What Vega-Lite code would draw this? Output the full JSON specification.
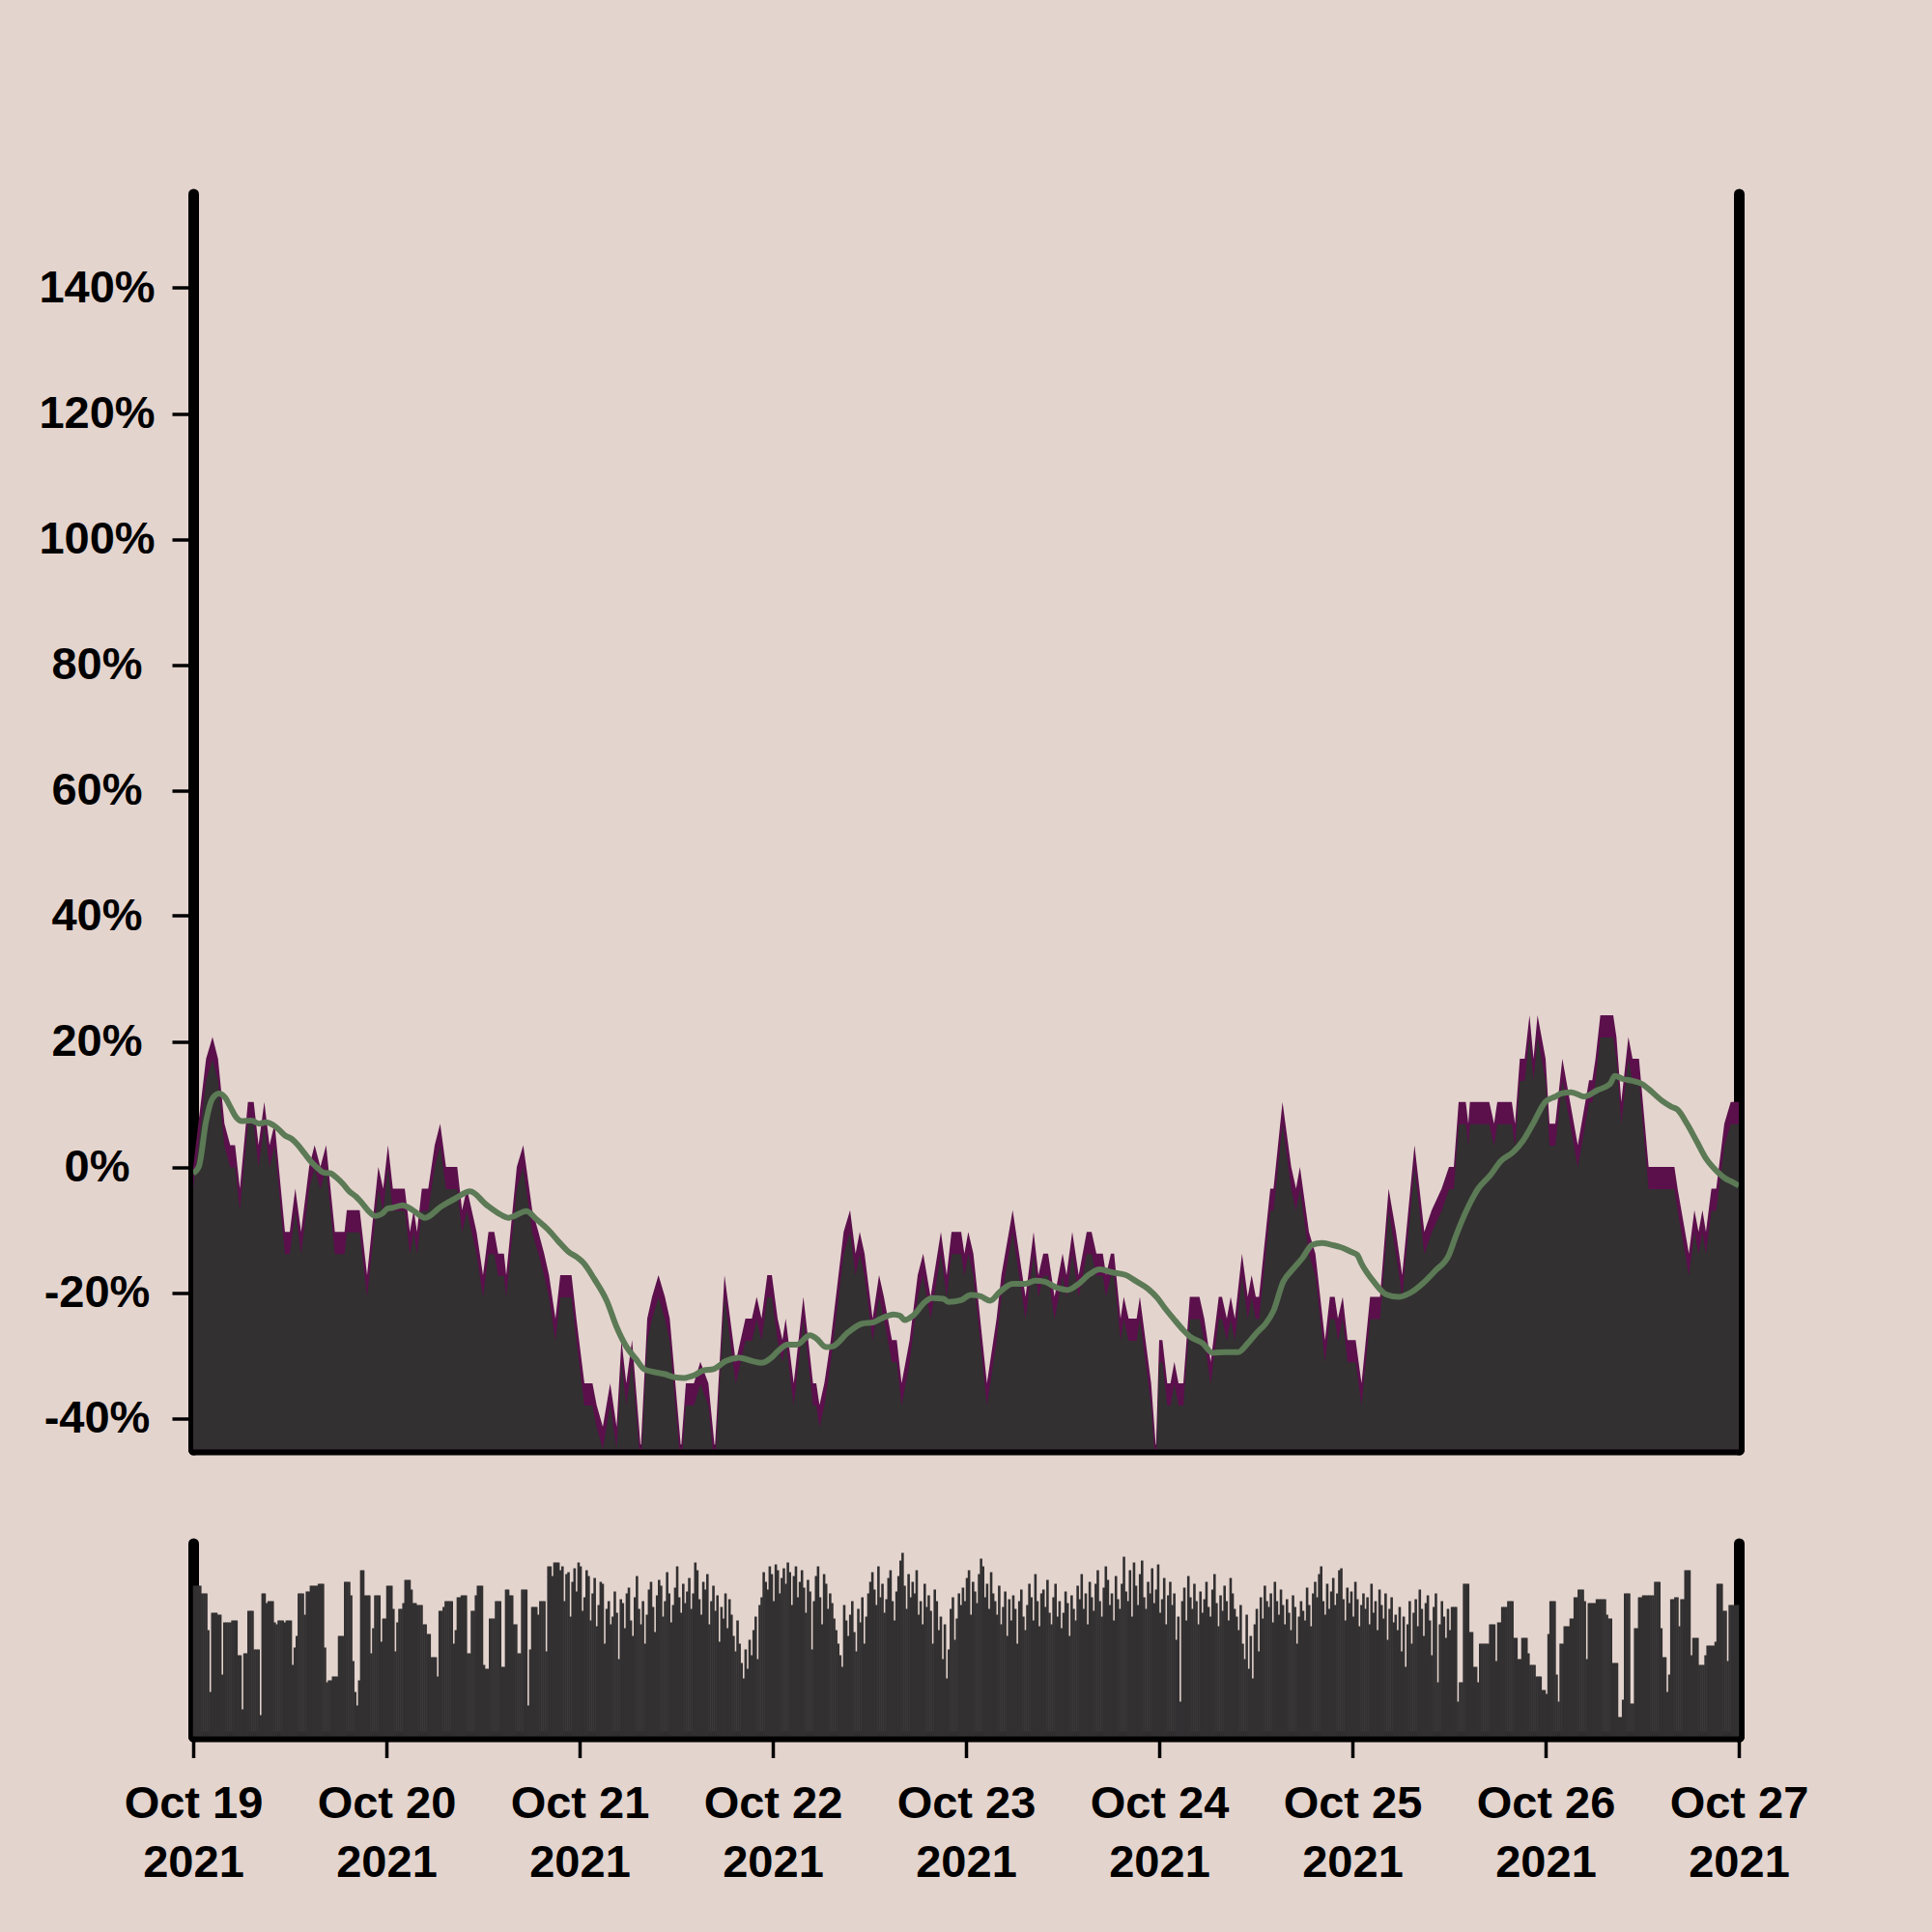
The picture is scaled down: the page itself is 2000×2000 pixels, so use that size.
{
"$schema": "https://vega.github.io/schema/vega-lite/v6.json",
"background": "#e4d4ce",
"padding": {"left": 39, "top": 200.5, "right": 135, "bottom": 60},
"config": {
  "view": {"stroke": null},
  "font": "Liberation Sans",
  "axis": {"labelFont": "Liberation Sans", "labelFontWeight": "bold", "labelFontSize": 47, "labelColor": "#000000", "domainColor": "#000000", "domainWidth": 11, "domainCap": "round", "tickColor": "#000000", "tickWidth": 3.5, "tickSize": 22, "grid": false, "title": null, "zindex": 1, "labelFlush": false}
},
"datasets": {
"area": [
{"t":"2021-10-19T00:00","v":0},{"t":"2021-10-19T01:36","v":17.24},{"t":"2021-10-19T02:24","v":20.69},{"t":"2021-10-19T03:05","v":17.24},{"t":"2021-10-19T03:53","v":6.9},{"t":"2021-10-19T04:36","v":3.45},{"t":"2021-10-19T05:12","v":3.45},{"t":"2021-10-19T05:48","v":-3.45},{"t":"2021-10-19T06:48","v":10.34},{"t":"2021-10-19T07:31","v":10.34},{"t":"2021-10-19T08:07","v":3.45},{"t":"2021-10-19T08:50","v":10.34},{"t":"2021-10-19T09:29","v":3.45},{"t":"2021-10-19T10:07","v":6.9},{"t":"2021-10-19T11:24","v":-10.34},{"t":"2021-10-19T12:00","v":-10.34},{"t":"2021-10-19T12:41","v":-3.45},{"t":"2021-10-19T13:24","v":-10.34},{"t":"2021-10-19T14:24","v":0},{"t":"2021-10-19T15:05","v":3.45},{"t":"2021-10-19T15:48","v":0},{"t":"2021-10-19T16:31","v":3.45},{"t":"2021-10-19T17:36","v":-10.34},{"t":"2021-10-19T18:48","v":-10.34},{"t":"2021-10-19T19:05","v":-6.9},{"t":"2021-10-19T20:41","v":-6.9},{"t":"2021-10-19T21:36","v":-17.24},{"t":"2021-10-19T23:00","v":0},{"t":"2021-10-19T23:36","v":-3.45},
{"t":"2021-10-20T00:12","v":3.45},{"t":"2021-10-20T00:48","v":-3.45},{"t":"2021-10-20T02:17","v":-3.45},{"t":"2021-10-20T02:55","v":-10.34},{"t":"2021-10-20T03:24","v":-6.9},{"t":"2021-10-20T03:48","v":-10.34},{"t":"2021-10-20T04:24","v":-3.45},{"t":"2021-10-20T05:12","v":-3.45},{"t":"2021-10-20T06:00","v":3.45},{"t":"2021-10-20T06:41","v":6.9},{"t":"2021-10-20T07:24","v":0},{"t":"2021-10-20T08:48","v":0},{"t":"2021-10-20T09:24","v":-6.9},{"t":"2021-10-20T10:00","v":-3.45},{"t":"2021-10-20T11:12","v":-10.34},{"t":"2021-10-20T12:00","v":-17.24},{"t":"2021-10-20T12:41","v":-10.34},{"t":"2021-10-20T13:24","v":-10.34},{"t":"2021-10-20T13:53","v":-13.79},{"t":"2021-10-20T14:36","v":-13.79},{"t":"2021-10-20T14:53","v":-17.24},{"t":"2021-10-20T16:12","v":0},{"t":"2021-10-20T17:00","v":3.45},{"t":"2021-10-20T18:07","v":-6.9},{"t":"2021-10-20T18:53","v":-10.34},{"t":"2021-10-20T19:36","v":-13.79},{"t":"2021-10-20T20:12","v":-17.24},{"t":"2021-10-20T21:00","v":-24.14},{"t":"2021-10-20T21:36","v":-17.24},{"t":"2021-10-20T23:00","v":-17.24},{"t":"2021-10-20T23:36","v":-24.14},
{"t":"2021-10-21T00:36","v":-34.48},{"t":"2021-10-21T01:36","v":-34.48},{"t":"2021-10-21T02:07","v":-37.93},{"t":"2021-10-21T02:53","v":-41.38},{"t":"2021-10-21T03:48","v":-34.48},{"t":"2021-10-21T04:36","v":-41.38},{"t":"2021-10-21T05:12","v":-27.59},{"t":"2021-10-21T05:48","v":-34.48},{"t":"2021-10-21T06:31","v":-27.59},{"t":"2021-10-21T07:36","v":-44.83},{"t":"2021-10-21T08:24","v":-24.14},{"t":"2021-10-21T09:00","v":-20.69},{"t":"2021-10-21T09:48","v":-17.24},{"t":"2021-10-21T10:36","v":-20.69},{"t":"2021-10-21T11:12","v":-24.14},{"t":"2021-10-21T12:36","v":-44.83},{"t":"2021-10-21T13:12","v":-34.48},{"t":"2021-10-21T14:12","v":-34.48},{"t":"2021-10-21T15:00","v":-31.03},{"t":"2021-10-21T16:00","v":-34.48},{"t":"2021-10-21T16:48","v":-44.83},{"t":"2021-10-21T18:00","v":-17.24},{"t":"2021-10-21T19:24","v":-31.03},{"t":"2021-10-21T20:36","v":-24.14},{"t":"2021-10-21T21:24","v":-24.14},{"t":"2021-10-21T22:00","v":-20.69},{"t":"2021-10-21T22:36","v":-24.14},{"t":"2021-10-21T23:19","v":-17.24},{"t":"2021-10-21T23:53","v":-17.24},
{"t":"2021-10-22T00:36","v":-24.14},{"t":"2021-10-22T01:12","v":-27.59},{"t":"2021-10-22T01:36","v":-24.14},{"t":"2021-10-22T02:36","v":-34.48},{"t":"2021-10-22T03:48","v":-20.69},{"t":"2021-10-22T05:00","v":-34.48},{"t":"2021-10-22T05:24","v":-34.48},{"t":"2021-10-22T05:48","v":-37.93},{"t":"2021-10-22T06:24","v":-34.48},{"t":"2021-10-22T06:48","v":-31.03},{"t":"2021-10-22T07:12","v":-27.59},{"t":"2021-10-22T08:48","v":-10.34},{"t":"2021-10-22T09:36","v":-6.9},{"t":"2021-10-22T10:17","v":-13.79},{"t":"2021-10-22T10:48","v":-10.34},{"t":"2021-10-22T11:24","v":-13.79},{"t":"2021-10-22T12:24","v":-24.14},{"t":"2021-10-22T13:12","v":-17.24},{"t":"2021-10-22T13:48","v":-20.69},{"t":"2021-10-22T14:48","v":-27.59},{"t":"2021-10-22T15:24","v":-27.59},{"t":"2021-10-22T16:00","v":-34.48},{"t":"2021-10-22T17:00","v":-27.59},{"t":"2021-10-22T18:00","v":-17.24},{"t":"2021-10-22T18:41","v":-13.79},{"t":"2021-10-22T19:36","v":-20.69},{"t":"2021-10-22T20:53","v":-10.34},{"t":"2021-10-22T21:36","v":-17.24},{"t":"2021-10-22T22:12","v":-10.34},{"t":"2021-10-22T23:24","v":-10.34},{"t":"2021-10-22T23:48","v":-13.79},
{"t":"2021-10-23T00:17","v":-10.34},{"t":"2021-10-23T00:55","v":-13.79},{"t":"2021-10-23T02:36","v":-34.48},{"t":"2021-10-23T03:48","v":-24.14},{"t":"2021-10-23T04:24","v":-17.24},{"t":"2021-10-23T05:48","v":-6.9},{"t":"2021-10-23T06:36","v":-13.79},{"t":"2021-10-23T07:24","v":-20.69},{"t":"2021-10-23T08:24","v":-10.34},{"t":"2021-10-23T09:00","v":-17.24},{"t":"2021-10-23T09:36","v":-13.79},{"t":"2021-10-23T10:12","v":-13.79},{"t":"2021-10-23T11:00","v":-20.69},{"t":"2021-10-23T12:00","v":-13.79},{"t":"2021-10-23T12:29","v":-17.24},{"t":"2021-10-23T13:12","v":-10.34},{"t":"2021-10-23T14:00","v":-17.24},{"t":"2021-10-23T15:00","v":-10.34},{"t":"2021-10-23T15:36","v":-10.34},{"t":"2021-10-23T16:12","v":-13.79},{"t":"2021-10-23T17:00","v":-13.79},{"t":"2021-10-23T17:24","v":-17.24},{"t":"2021-10-23T18:00","v":-13.79},{"t":"2021-10-23T18:24","v":-13.79},{"t":"2021-10-23T19:12","v":-24.14},{"t":"2021-10-23T19:36","v":-20.69},{"t":"2021-10-23T20:12","v":-24.14},{"t":"2021-10-23T21:12","v":-24.14},{"t":"2021-10-23T21:36","v":-20.69},{"t":"2021-10-23T23:00","v":-34.48},{"t":"2021-10-23T23:36","v":-44.83},
{"t":"2021-10-24T00:00","v":-27.59},{"t":"2021-10-24T00:24","v":-27.59},{"t":"2021-10-24T01:00","v":-34.48},{"t":"2021-10-24T01:24","v":-34.48},{"t":"2021-10-24T01:53","v":-31.03},{"t":"2021-10-24T02:24","v":-34.48},{"t":"2021-10-24T03:00","v":-34.48},{"t":"2021-10-24T03:48","v":-20.69},{"t":"2021-10-24T05:00","v":-20.69},{"t":"2021-10-24T05:36","v":-24.14},{"t":"2021-10-24T06:24","v":-31.03},{"t":"2021-10-24T07:24","v":-20.69},{"t":"2021-10-24T07:48","v":-20.69},{"t":"2021-10-24T08:24","v":-24.14},{"t":"2021-10-24T08:53","v":-20.69},{"t":"2021-10-24T09:24","v":-24.14},{"t":"2021-10-24T10:17","v":-13.79},{"t":"2021-10-24T11:00","v":-20.69},{"t":"2021-10-24T11:29","v":-17.24},{"t":"2021-10-24T12:00","v":-20.69},{"t":"2021-10-24T12:24","v":-20.69},{"t":"2021-10-24T13:48","v":-3.45},{"t":"2021-10-24T14:12","v":-3.45},{"t":"2021-10-24T15:19","v":10.34},{"t":"2021-10-24T16:24","v":0},{"t":"2021-10-24T17:00","v":-3.45},{"t":"2021-10-24T17:29","v":0},{"t":"2021-10-24T18:36","v":-10.34},{"t":"2021-10-24T19:24","v":-13.79},{"t":"2021-10-24T20:36","v":-27.59},{"t":"2021-10-24T21:12","v":-20.69},{"t":"2021-10-24T21:48","v":-20.69},{"t":"2021-10-24T22:12","v":-24.14},{"t":"2021-10-24T22:48","v":-20.69},{"t":"2021-10-24T23:24","v":-27.59},
{"t":"2021-10-25T00:24","v":-27.59},{"t":"2021-10-25T01:08","v":-34.48},{"t":"2021-10-25T01:40","v":-27.59},{"t":"2021-10-25T02:12","v":-20.69},{"t":"2021-10-25T03:26","v":-20.69},{"t":"2021-10-25T04:30","v":-3.45},{"t":"2021-10-25T05:25","v":-10.34},{"t":"2021-10-25T06:11","v":-17.24},{"t":"2021-10-25T07:43","v":3.45},{"t":"2021-10-25T08:20","v":-3.45},{"t":"2021-10-25T08:56","v":-10.34},{"t":"2021-10-25T09:51","v":-6.9},{"t":"2021-10-25T11:05","v":-3.45},{"t":"2021-10-25T12:00","v":0},{"t":"2021-10-25T12:36","v":0},{"t":"2021-10-25T13:12","v":10.34},{"t":"2021-10-25T14:05","v":10.34},{"t":"2021-10-25T14:24","v":6.9},{"t":"2021-10-25T14:36","v":10.34},{"t":"2021-10-25T17:00","v":10.34},{"t":"2021-10-25T17:36","v":6.9},{"t":"2021-10-25T18:00","v":10.34},{"t":"2021-10-25T19:48","v":10.34},{"t":"2021-10-25T20:12","v":6.9},{"t":"2021-10-25T20:48","v":17.24},{"t":"2021-10-25T21:24","v":17.24},{"t":"2021-10-25T22:00","v":24.14},{"t":"2021-10-25T22:30","v":17.24},{"t":"2021-10-25T23:00","v":24.14},
{"t":"2021-10-26T00:00","v":17.24},{"t":"2021-10-26T00:29","v":6.9},{"t":"2021-10-26T01:12","v":6.9},{"t":"2021-10-26T02:05","v":17.24},{"t":"2021-10-26T04:00","v":3.45},{"t":"2021-10-26T05:24","v":13.79},{"t":"2021-10-26T05:48","v":13.79},{"t":"2021-10-26T06:12","v":17.24},{"t":"2021-10-26T06:48","v":24.14},{"t":"2021-10-26T08:24","v":24.14},{"t":"2021-10-26T08:48","v":20.69},{"t":"2021-10-26T09:24","v":10.34},{"t":"2021-10-26T10:17","v":20.69},{"t":"2021-10-26T10:48","v":17.24},{"t":"2021-10-26T11:36","v":17.24},{"t":"2021-10-26T12:48","v":0},{"t":"2021-10-26T16:00","v":0},{"t":"2021-10-26T16:24","v":-3.45},{"t":"2021-10-26T17:48","v":-13.79},{"t":"2021-10-26T18:29","v":-6.9},{"t":"2021-10-26T19:00","v":-10.34},{"t":"2021-10-26T19:29","v":-6.9},{"t":"2021-10-26T19:55","v":-10.34},{"t":"2021-10-26T20:36","v":-3.45},{"t":"2021-10-26T21:12","v":-3.45},{"t":"2021-10-26T22:12","v":6.9},{"t":"2021-10-26T23:00","v":10.34},{"t":"2021-10-27T00:00","v":10.34}
],
"ma": [
{"t":"2021-10-19T00:00","v":-1.0},{"t":"2021-10-19T00:43","v":0.1},{"t":"2021-10-19T01:36","v":7.3},{"t":"2021-10-19T02:24","v":10.9},{"t":"2021-10-19T03:12","v":11.7},{"t":"2021-10-19T04:00","v":11.0},{"t":"2021-10-19T04:36","v":9.6},{"t":"2021-10-19T05:24","v":7.8},{"t":"2021-10-19T06:00","v":7.3},{"t":"2021-10-19T07:12","v":7.4},{"t":"2021-10-19T08:12","v":6.9},{"t":"2021-10-19T09:00","v":7.1},{"t":"2021-10-19T09:53","v":6.7},{"t":"2021-10-19T10:36","v":6.0},{"t":"2021-10-19T11:24","v":5.0},{"t":"2021-10-19T12:12","v":4.5},{"t":"2021-10-19T13:00","v":3.5},{"t":"2021-10-19T13:48","v":2.2},{"t":"2021-10-19T14:36","v":0.9},{"t":"2021-10-19T15:24","v":-0.1},{"t":"2021-10-19T16:12","v":-0.9},{"t":"2021-10-19T17:00","v":-1.0},{"t":"2021-10-19T17:48","v":-1.7},{"t":"2021-10-19T18:36","v":-2.7},{"t":"2021-10-19T19:24","v":-3.9},{"t":"2021-10-19T20:12","v":-4.7},{"t":"2021-10-19T21:00","v":-5.8},{"t":"2021-10-19T21:48","v":-7.05},{"t":"2021-10-19T22:36","v":-7.8},{"t":"2021-10-19T23:24","v":-7.5},
{"t":"2021-10-20T00:12","v":-6.6},{"t":"2021-10-20T00:48","v":-6.5},{"t":"2021-10-20T02:00","v":-6.1},{"t":"2021-10-20T03:24","v":-7.0},{"t":"2021-10-20T04:48","v":-8.1},{"t":"2021-10-20T06:48","v":-6.3},{"t":"2021-10-20T08:36","v":-5.0},{"t":"2021-10-20T10:24","v":-3.9},{"t":"2021-10-20T12:24","v":-6.0},{"t":"2021-10-20T14:12","v":-7.6},{"t":"2021-10-20T15:12","v":-8.1},{"t":"2021-10-20T17:24","v":-7.05},{"t":"2021-10-20T18:36","v":-8.3},{"t":"2021-10-20T20:06","v":-10.0},{"t":"2021-10-20T21:24","v":-11.9},{"t":"2021-10-20T22:36","v":-13.5},{"t":"2021-10-20T23:48","v":-14.5},
{"t":"2021-10-21T00:30","v":-15.3},{"t":"2021-10-21T01:48","v":-17.8},{"t":"2021-10-21T03:24","v":-21.4},{"t":"2021-10-21T04:36","v":-25.5},{"t":"2021-10-21T05:48","v":-28.6},{"t":"2021-10-21T07:00","v":-30.6},{"t":"2021-10-21T08:00","v":-32.2},{"t":"2021-10-21T09:00","v":-32.6},{"t":"2021-10-21T10:36","v":-33.0},{"t":"2021-10-21T11:48","v":-33.5},{"t":"2021-10-21T13:00","v":-33.6},{"t":"2021-10-21T14:12","v":-33.2},{"t":"2021-10-21T15:24","v":-32.4},{"t":"2021-10-21T16:36","v":-32.2},{"t":"2021-10-21T18:12","v":-30.9},{"t":"2021-10-21T19:48","v":-30.4},{"t":"2021-10-21T21:24","v":-30.9},{"t":"2021-10-21T22:36","v":-31.2},{"t":"2021-10-21T23:48","v":-30.4},
{"t":"2021-10-22T00:36","v":-29.4},{"t":"2021-10-22T01:48","v":-28.3},{"t":"2021-10-22T03:00","v":-28.3},{"t":"2021-10-22T04:36","v":-26.8},{"t":"2021-10-22T05:24","v":-27.3},{"t":"2021-10-22T06:36","v":-28.7},{"t":"2021-10-22T07:24","v":-28.6},{"t":"2021-10-22T09:24","v":-26.3},{"t":"2021-10-22T11:00","v":-25.0},{"t":"2021-10-22T12:36","v":-24.7},{"t":"2021-10-22T13:24","v":-24.2},{"t":"2021-10-22T15:00","v":-23.5},{"t":"2021-10-22T15:48","v":-23.7},{"t":"2021-10-22T16:24","v":-24.4},{"t":"2021-10-22T17:24","v":-23.7},{"t":"2021-10-22T19:00","v":-21.4},{"t":"2021-10-22T19:48","v":-20.9},{"t":"2021-10-22T21:12","v":-21.0},{"t":"2021-10-22T21:48","v":-21.5},{"t":"2021-10-22T23:24","v":-21.2},
{"t":"2021-10-23T00:36","v":-20.4},{"t":"2021-10-23T01:48","v":-20.6},{"t":"2021-10-23T03:00","v":-21.3},{"t":"2021-10-23T04:12","v":-19.9},{"t":"2021-10-23T05:48","v":-18.6},{"t":"2021-10-23T07:24","v":-18.6},{"t":"2021-10-23T08:36","v":-18.1},{"t":"2021-10-23T09:48","v":-18.3},{"t":"2021-10-23T11:24","v":-19.3},{"t":"2021-10-23T12:36","v":-19.6},{"t":"2021-10-23T13:48","v":-18.8},{"t":"2021-10-23T15:24","v":-17.05},{"t":"2021-10-23T16:36","v":-16.3},{"t":"2021-10-23T18:12","v":-16.8},{"t":"2021-10-23T19:48","v":-17.2},{"t":"2021-10-23T21:00","v":-18.1},{"t":"2021-10-23T22:36","v":-19.4},{"t":"2021-10-23T23:48","v":-20.9},
{"t":"2021-10-24T00:36","v":-22.3},{"t":"2021-10-24T01:48","v":-24.2},{"t":"2021-10-24T03:00","v":-26.0},{"t":"2021-10-24T03:48","v":-27.0},{"t":"2021-10-24T05:24","v":-28.1},{"t":"2021-10-24T06:36","v":-29.6},{"t":"2021-10-24T08:12","v":-29.5},{"t":"2021-10-24T09:48","v":-29.5},{"t":"2021-10-24T11:00","v":-28.1},{"t":"2021-10-24T12:12","v":-26.3},{"t":"2021-10-24T13:12","v":-25.0},{"t":"2021-10-24T14:12","v":-22.9},{"t":"2021-10-24T15:24","v":-18.3},{"t":"2021-10-24T16:36","v":-16.3},{"t":"2021-10-24T17:48","v":-14.5},{"t":"2021-10-24T19:00","v":-12.4},{"t":"2021-10-24T20:12","v":-12.1},{"t":"2021-10-24T21:24","v":-12.4},{"t":"2021-10-24T22:36","v":-12.8},{"t":"2021-10-24T23:48","v":-13.5},
{"t":"2021-10-25T00:36","v":-14.0},{"t":"2021-10-25T01:08","v":-15.4},{"t":"2021-10-25T02:40","v":-18.3},{"t":"2021-10-25T04:11","v":-20.3},{"t":"2021-10-25T05:43","v":-20.7},{"t":"2021-10-25T07:16","v":-20.0},{"t":"2021-10-25T08:47","v":-18.5},{"t":"2021-10-25T10:19","v":-16.5},{"t":"2021-10-25T12:00","v":-14.0},{"t":"2021-10-25T12:48","v":-11.2},{"t":"2021-10-25T13:36","v":-8.6},{"t":"2021-10-25T14:24","v":-6.3},{"t":"2021-10-25T15:36","v":-3.5},{"t":"2021-10-25T17:12","v":-1.2},{"t":"2021-10-25T18:24","v":0.9},{"t":"2021-10-25T20:00","v":2.4},{"t":"2021-10-25T21:12","v":4.2},{"t":"2021-10-25T22:24","v":6.8},
{"t":"2021-10-26T00:00","v":10.4},{"t":"2021-10-26T01:12","v":11.2},{"t":"2021-10-26T02:00","v":11.7},{"t":"2021-10-26T03:12","v":11.9},{"t":"2021-10-26T04:48","v":11.2},{"t":"2021-10-26T06:24","v":12.2},{"t":"2021-10-26T08:00","v":13.2},{"t":"2021-10-26T08:36","v":14.5},{"t":"2021-10-26T09:36","v":14.0},{"t":"2021-10-26T10:48","v":13.7},{"t":"2021-10-26T12:00","v":13.2},{"t":"2021-10-26T12:48","v":12.4},{"t":"2021-10-26T14:24","v":10.6},{"t":"2021-10-26T15:36","v":9.6},{"t":"2021-10-26T16:24","v":9.1},{"t":"2021-10-26T17:36","v":6.8},{"t":"2021-10-26T18:48","v":4.0},{"t":"2021-10-26T20:00","v":1.2},{"t":"2021-10-26T21:12","v":-0.6},{"t":"2021-10-26T22:24","v":-1.9},{"t":"2021-10-26T23:12","v":-2.4},{"t":"2021-10-27T00:00","v":-3.0}
],
"vol": [
{"t":"2021-10-19T00:00","b":78},{"t":"2021-10-19T00:15","b":78},{"t":"2021-10-19T00:30","b":78},{"t":"2021-10-19T00:45","b":78},{"t":"2021-10-19T01:00","b":74},{"t":"2021-10-19T01:15","b":74},{"t":"2021-10-19T01:30","b":74},{"t":"2021-10-19T01:45","b":55},{"t":"2021-10-19T02:00","b":23},{"t":"2021-10-19T02:15","b":64},{"t":"2021-10-19T02:30","b":64},{"t":"2021-10-19T02:45","b":64},{"t":"2021-10-19T03:00","b":63},{"t":"2021-10-19T03:15","b":63},{"t":"2021-10-19T03:30","b":32},{"t":"2021-10-19T03:45","b":59},{"t":"2021-10-19T04:00","b":59},{"t":"2021-10-19T04:15","b":59},{"t":"2021-10-19T04:30","b":59},{"t":"2021-10-19T04:45","b":60},{"t":"2021-10-19T05:00","b":60},{"t":"2021-10-19T05:15","b":60},{"t":"2021-10-19T05:30","b":42},{"t":"2021-10-19T05:45","b":42},{"t":"2021-10-19T06:00","b":14},{"t":"2021-10-19T06:15","b":43},{"t":"2021-10-19T06:30","b":43},{"t":"2021-10-19T06:45","b":65},{"t":"2021-10-19T07:00","b":65},{"t":"2021-10-19T07:15","b":65},{"t":"2021-10-19T07:30","b":45},{"t":"2021-10-19T07:45","b":45},{"t":"2021-10-19T08:00","b":45},{"t":"2021-10-19T08:15","b":11},{"t":"2021-10-19T08:30","b":74},{"t":"2021-10-19T08:45","b":74},{"t":"2021-10-19T09:00","b":69},{"t":"2021-10-19T09:15","b":70},{"t":"2021-10-19T09:30","b":70},{"t":"2021-10-19T09:45","b":70},{"t":"2021-10-19T10:00","b":59},{"t":"2021-10-19T10:15","b":58},{"t":"2021-10-19T10:30","b":60},{"t":"2021-10-19T10:45","b":60},{"t":"2021-10-19T11:00","b":60},{"t":"2021-10-19T11:15","b":59},{"t":"2021-10-19T11:30","b":60},{"t":"2021-10-19T11:45","b":60},{"t":"2021-10-19T12:00","b":60},{"t":"2021-10-19T12:15","b":37},{"t":"2021-10-19T12:30","b":46},{"t":"2021-10-19T12:45","b":52},{"t":"2021-10-19T13:00","b":74},{"t":"2021-10-19T13:15","b":74},{"t":"2021-10-19T13:30","b":74},{"t":"2021-10-19T13:45","b":63},{"t":"2021-10-19T14:00","b":75},{"t":"2021-10-19T14:15","b":75},{"t":"2021-10-19T14:30","b":78},{"t":"2021-10-19T14:45","b":78},{"t":"2021-10-19T15:00","b":78},{"t":"2021-10-19T15:15","b":78},{"t":"2021-10-19T15:30","b":79},{"t":"2021-10-19T15:45","b":79},{"t":"2021-10-19T16:00","b":79},{"t":"2021-10-19T16:15","b":46},{"t":"2021-10-19T16:30","b":28},{"t":"2021-10-19T16:45","b":29},{"t":"2021-10-19T17:00","b":29},{"t":"2021-10-19T17:15","b":31},{"t":"2021-10-19T17:30","b":31},{"t":"2021-10-19T17:45","b":31},{"t":"2021-10-19T18:00","b":52},{"t":"2021-10-19T18:15","b":52},{"t":"2021-10-19T18:30","b":52},{"t":"2021-10-19T18:45","b":80},{"t":"2021-10-19T19:00","b":80},{"t":"2021-10-19T19:15","b":80},{"t":"2021-10-19T19:30","b":73},{"t":"2021-10-19T19:45","b":39},{"t":"2021-10-19T20:00","b":23},{"t":"2021-10-19T20:15","b":16},{"t":"2021-10-19T20:30","b":29},{"t":"2021-10-19T20:45","b":86},{"t":"2021-10-19T21:00","b":86},{"t":"2021-10-19T21:15","b":73},{"t":"2021-10-19T21:30","b":73},{"t":"2021-10-19T21:45","b":73},{"t":"2021-10-19T22:00","b":43},{"t":"2021-10-19T22:15","b":56},{"t":"2021-10-19T22:30","b":73},{"t":"2021-10-19T22:45","b":73},{"t":"2021-10-19T23:00","b":73},{"t":"2021-10-19T23:15","b":49},{"t":"2021-10-19T23:30","b":61},{"t":"2021-10-19T23:45","b":61},
{"t":"2021-10-20T00:00","b":78},{"t":"2021-10-20T00:15","b":78},{"t":"2021-10-20T00:30","b":78},{"t":"2021-10-20T00:45","b":66},{"t":"2021-10-20T01:00","b":44},{"t":"2021-10-20T01:15","b":59},{"t":"2021-10-20T01:30","b":66},{"t":"2021-10-20T01:45","b":66},{"t":"2021-10-20T02:00","b":69},{"t":"2021-10-20T02:15","b":81},{"t":"2021-10-20T02:30","b":81},{"t":"2021-10-20T02:45","b":81},{"t":"2021-10-20T03:00","b":76},{"t":"2021-10-20T03:15","b":69},{"t":"2021-10-20T03:30","b":69},{"t":"2021-10-20T03:45","b":68},{"t":"2021-10-20T04:00","b":68},{"t":"2021-10-20T04:15","b":68},{"t":"2021-10-20T04:30","b":58},{"t":"2021-10-20T04:45","b":58},{"t":"2021-10-20T05:00","b":53},{"t":"2021-10-20T05:15","b":53},{"t":"2021-10-20T05:30","b":41},{"t":"2021-10-20T05:45","b":41},{"t":"2021-10-20T06:00","b":41},{"t":"2021-10-20T06:15","b":31},{"t":"2021-10-20T06:30","b":65},{"t":"2021-10-20T06:45","b":65},{"t":"2021-10-20T07:00","b":67},{"t":"2021-10-20T07:15","b":70},{"t":"2021-10-20T07:30","b":70},{"t":"2021-10-20T07:45","b":70},{"t":"2021-10-20T08:00","b":70},{"t":"2021-10-20T08:15","b":48},{"t":"2021-10-20T08:30","b":55},{"t":"2021-10-20T08:45","b":72},{"t":"2021-10-20T09:00","b":72},{"t":"2021-10-20T09:15","b":73},{"t":"2021-10-20T09:30","b":73},{"t":"2021-10-20T09:45","b":73},{"t":"2021-10-20T10:00","b":43},{"t":"2021-10-20T10:15","b":43},{"t":"2021-10-20T10:30","b":65},{"t":"2021-10-20T10:45","b":65},{"t":"2021-10-20T11:00","b":73},{"t":"2021-10-20T11:15","b":78},{"t":"2021-10-20T11:30","b":78},{"t":"2021-10-20T11:45","b":78},{"t":"2021-10-20T12:00","b":37},{"t":"2021-10-20T12:15","b":35},{"t":"2021-10-20T12:30","b":35},{"t":"2021-10-20T12:45","b":61},{"t":"2021-10-20T13:00","b":61},{"t":"2021-10-20T13:15","b":61},{"t":"2021-10-20T13:30","b":70},{"t":"2021-10-20T13:45","b":70},{"t":"2021-10-20T14:00","b":70},{"t":"2021-10-20T14:15","b":36},{"t":"2021-10-20T14:30","b":36},{"t":"2021-10-20T14:45","b":76},{"t":"2021-10-20T15:00","b":76},{"t":"2021-10-20T15:15","b":73},{"t":"2021-10-20T15:30","b":73},{"t":"2021-10-20T15:45","b":58},{"t":"2021-10-20T16:00","b":58},{"t":"2021-10-20T16:15","b":43},{"t":"2021-10-20T16:30","b":43},{"t":"2021-10-20T16:45","b":76},{"t":"2021-10-20T17:00","b":76},{"t":"2021-10-20T17:15","b":76},{"t":"2021-10-20T17:30","b":16},{"t":"2021-10-20T17:45","b":45},{"t":"2021-10-20T18:00","b":67},{"t":"2021-10-20T18:15","b":67},{"t":"2021-10-20T18:30","b":67},{"t":"2021-10-20T18:45","b":63},{"t":"2021-10-20T19:00","b":70},{"t":"2021-10-20T19:15","b":70},{"t":"2021-10-20T19:30","b":70},{"t":"2021-10-20T19:45","b":44},{"t":"2021-10-20T20:00","b":88},{"t":"2021-10-20T20:15","b":88},{"t":"2021-10-20T20:30","b":83},{"t":"2021-10-20T20:45","b":90},{"t":"2021-10-20T21:00","b":90},{"t":"2021-10-20T21:15","b":90},{"t":"2021-10-20T21:30","b":86},{"t":"2021-10-20T21:45","b":88},{"t":"2021-10-20T22:00","b":70},{"t":"2021-10-20T22:15","b":84},{"t":"2021-10-20T22:30","b":85},{"t":"2021-10-20T22:45","b":62},{"t":"2021-10-20T23:00","b":80},{"t":"2021-10-20T23:15","b":87},{"t":"2021-10-20T23:30","b":75},{"t":"2021-10-20T23:45","b":90},
{"t":"2021-10-21T00:00","b":88},{"t":"2021-10-21T00:15","b":65},{"t":"2021-10-21T00:30","b":72},{"t":"2021-10-21T00:45","b":86},{"t":"2021-10-21T01:00","b":83},{"t":"2021-10-21T01:15","b":60},{"t":"2021-10-21T01:30","b":74},{"t":"2021-10-21T01:45","b":82},{"t":"2021-10-21T02:00","b":57},{"t":"2021-10-21T02:15","b":68},{"t":"2021-10-21T02:30","b":80},{"t":"2021-10-21T02:45","b":79},{"t":"2021-10-21T03:00","b":48},{"t":"2021-10-21T03:15","b":66},{"t":"2021-10-21T03:30","b":70},{"t":"2021-10-21T03:45","b":58},{"t":"2021-10-21T04:00","b":62},{"t":"2021-10-21T04:15","b":75},{"t":"2021-10-21T04:30","b":64},{"t":"2021-10-21T04:45","b":40},{"t":"2021-10-21T05:00","b":71},{"t":"2021-10-21T05:15","b":69},{"t":"2021-10-21T05:30","b":56},{"t":"2021-10-21T05:45","b":74},{"t":"2021-10-21T06:00","b":77},{"t":"2021-10-21T06:15","b":60},{"t":"2021-10-21T06:30","b":52},{"t":"2021-10-21T06:45","b":72},{"t":"2021-10-21T07:00","b":83},{"t":"2021-10-21T07:15","b":66},{"t":"2021-10-21T07:30","b":58},{"t":"2021-10-21T07:45","b":70},{"t":"2021-10-21T08:00","b":48},{"t":"2021-10-21T08:15","b":63},{"t":"2021-10-21T08:30","b":76},{"t":"2021-10-21T08:45","b":80},{"t":"2021-10-21T09:00","b":67},{"t":"2021-10-21T09:15","b":54},{"t":"2021-10-21T09:30","b":73},{"t":"2021-10-21T09:45","b":81},{"t":"2021-10-21T10:00","b":78},{"t":"2021-10-21T10:15","b":62},{"t":"2021-10-21T10:30","b":70},{"t":"2021-10-21T10:45","b":85},{"t":"2021-10-21T11:00","b":74},{"t":"2021-10-21T11:15","b":59},{"t":"2021-10-21T11:30","b":68},{"t":"2021-10-21T11:45","b":77},{"t":"2021-10-21T12:00","b":88},{"t":"2021-10-21T12:15","b":72},{"t":"2021-10-21T12:30","b":64},{"t":"2021-10-21T12:45","b":79},{"t":"2021-10-21T13:00","b":69},{"t":"2021-10-21T13:15","b":75},{"t":"2021-10-21T13:30","b":82},{"t":"2021-10-21T13:45","b":66},{"t":"2021-10-21T14:00","b":74},{"t":"2021-10-21T14:15","b":90},{"t":"2021-10-21T14:30","b":86},{"t":"2021-10-21T14:45","b":71},{"t":"2021-10-21T15:00","b":63},{"t":"2021-10-21T15:15","b":80},{"t":"2021-10-21T15:30","b":76},{"t":"2021-10-21T15:45","b":84},{"t":"2021-10-21T16:00","b":58},{"t":"2021-10-21T16:15","b":70},{"t":"2021-10-21T16:30","b":78},{"t":"2021-10-21T16:45","b":65},{"t":"2021-10-21T17:00","b":73},{"t":"2021-10-21T17:15","b":49},{"t":"2021-10-21T17:30","b":67},{"t":"2021-10-21T17:45","b":61},{"t":"2021-10-21T18:00","b":74},{"t":"2021-10-21T18:15","b":56},{"t":"2021-10-21T18:30","b":71},{"t":"2021-10-21T18:45","b":63},{"t":"2021-10-21T19:00","b":52},{"t":"2021-10-21T19:15","b":44},{"t":"2021-10-21T19:30","b":60},{"t":"2021-10-21T19:45","b":48},{"t":"2021-10-21T20:00","b":38},{"t":"2021-10-21T20:15","b":30},{"t":"2021-10-21T20:30","b":45},{"t":"2021-10-21T20:45","b":35},{"t":"2021-10-21T21:00","b":50},{"t":"2021-10-21T21:15","b":42},{"t":"2021-10-21T21:30","b":55},{"t":"2021-10-21T21:45","b":62},{"t":"2021-10-21T22:00","b":40},{"t":"2021-10-21T22:15","b":68},{"t":"2021-10-21T22:30","b":72},{"t":"2021-10-21T22:45","b":85},{"t":"2021-10-21T23:00","b":80},{"t":"2021-10-21T23:15","b":76},{"t":"2021-10-21T23:30","b":88},{"t":"2021-10-21T23:45","b":84},
{"t":"2021-10-22T00:00","b":70},{"t":"2021-10-22T00:15","b":89},{"t":"2021-10-22T00:30","b":86},{"t":"2021-10-22T00:45","b":74},{"t":"2021-10-22T01:00","b":82},{"t":"2021-10-22T01:15","b":87},{"t":"2021-10-22T01:30","b":79},{"t":"2021-10-22T01:45","b":90},{"t":"2021-10-22T02:00","b":85},{"t":"2021-10-22T02:15","b":68},{"t":"2021-10-22T02:30","b":83},{"t":"2021-10-22T02:45","b":88},{"t":"2021-10-22T03:00","b":72},{"t":"2021-10-22T03:15","b":80},{"t":"2021-10-22T03:30","b":86},{"t":"2021-10-22T03:45","b":77},{"t":"2021-10-22T04:00","b":64},{"t":"2021-10-22T04:15","b":81},{"t":"2021-10-22T04:30","b":75},{"t":"2021-10-22T04:45","b":45},{"t":"2021-10-22T05:00","b":70},{"t":"2021-10-22T05:15","b":83},{"t":"2021-10-22T05:30","b":88},{"t":"2021-10-22T05:45","b":72},{"t":"2021-10-22T06:00","b":58},{"t":"2021-10-22T06:15","b":84},{"t":"2021-10-22T06:30","b":79},{"t":"2021-10-22T06:45","b":66},{"t":"2021-10-22T07:00","b":74},{"t":"2021-10-22T07:15","b":69},{"t":"2021-10-22T07:30","b":61},{"t":"2021-10-22T07:45","b":55},{"t":"2021-10-22T08:00","b":48},{"t":"2021-10-22T08:15","b":42},{"t":"2021-10-22T08:30","b":36},{"t":"2021-10-22T08:45","b":68},{"t":"2021-10-22T09:00","b":60},{"t":"2021-10-22T09:15","b":52},{"t":"2021-10-22T09:30","b":63},{"t":"2021-10-22T09:45","b":70},{"t":"2021-10-22T10:00","b":54},{"t":"2021-10-22T10:15","b":44},{"t":"2021-10-22T10:30","b":66},{"t":"2021-10-22T10:45","b":59},{"t":"2021-10-22T11:00","b":72},{"t":"2021-10-22T11:15","b":48},{"t":"2021-10-22T11:30","b":62},{"t":"2021-10-22T11:45","b":74},{"t":"2021-10-22T12:00","b":80},{"t":"2021-10-22T12:15","b":85},{"t":"2021-10-22T12:30","b":76},{"t":"2021-10-22T12:45","b":68},{"t":"2021-10-22T13:00","b":88},{"t":"2021-10-22T13:15","b":72},{"t":"2021-10-22T13:30","b":79},{"t":"2021-10-22T13:45","b":64},{"t":"2021-10-22T14:00","b":71},{"t":"2021-10-22T14:15","b":82},{"t":"2021-10-22T14:30","b":86},{"t":"2021-10-22T14:45","b":70},{"t":"2021-10-22T15:00","b":60},{"t":"2021-10-22T15:15","b":75},{"t":"2021-10-22T15:30","b":83},{"t":"2021-10-22T15:45","b":91},{"t":"2021-10-22T16:00","b":95},{"t":"2021-10-22T16:15","b":78},{"t":"2021-10-22T16:30","b":66},{"t":"2021-10-22T16:45","b":84},{"t":"2021-10-22T17:00","b":72},{"t":"2021-10-22T17:15","b":80},{"t":"2021-10-22T17:30","b":74},{"t":"2021-10-22T17:45","b":86},{"t":"2021-10-22T18:00","b":63},{"t":"2021-10-22T18:15","b":70},{"t":"2021-10-22T18:30","b":58},{"t":"2021-10-22T18:45","b":79},{"t":"2021-10-22T19:00","b":67},{"t":"2021-10-22T19:15","b":73},{"t":"2021-10-22T19:30","b":65},{"t":"2021-10-22T19:45","b":48},{"t":"2021-10-22T20:00","b":76},{"t":"2021-10-22T20:15","b":70},{"t":"2021-10-22T20:30","b":55},{"t":"2021-10-22T20:45","b":62},{"t":"2021-10-22T21:00","b":40},{"t":"2021-10-22T21:15","b":58},{"t":"2021-10-22T21:30","b":30},{"t":"2021-10-22T21:45","b":45},{"t":"2021-10-22T22:00","b":66},{"t":"2021-10-22T22:15","b":72},{"t":"2021-10-22T22:30","b":50},{"t":"2021-10-22T22:45","b":61},{"t":"2021-10-22T23:00","b":74},{"t":"2021-10-22T23:15","b":68},{"t":"2021-10-22T23:30","b":77},{"t":"2021-10-22T23:45","b":70},
{"t":"2021-10-23T00:00","b":82},{"t":"2021-10-23T00:15","b":86},{"t":"2021-10-23T00:30","b":63},{"t":"2021-10-23T00:45","b":80},{"t":"2021-10-23T01:00","b":75},{"t":"2021-10-23T01:15","b":69},{"t":"2021-10-23T01:30","b":84},{"t":"2021-10-23T01:45","b":92},{"t":"2021-10-23T02:00","b":88},{"t":"2021-10-23T02:15","b":72},{"t":"2021-10-23T02:30","b":79},{"t":"2021-10-23T02:45","b":66},{"t":"2021-10-23T03:00","b":85},{"t":"2021-10-23T03:15","b":74},{"t":"2021-10-23T03:30","b":70},{"t":"2021-10-23T03:45","b":63},{"t":"2021-10-23T04:00","b":78},{"t":"2021-10-23T04:15","b":58},{"t":"2021-10-23T04:30","b":67},{"t":"2021-10-23T04:45","b":75},{"t":"2021-10-23T05:00","b":52},{"t":"2021-10-23T05:15","b":71},{"t":"2021-10-23T05:30","b":60},{"t":"2021-10-23T05:45","b":73},{"t":"2021-10-23T06:00","b":66},{"t":"2021-10-23T06:15","b":48},{"t":"2021-10-23T06:30","b":70},{"t":"2021-10-23T06:45","b":76},{"t":"2021-10-23T07:00","b":62},{"t":"2021-10-23T07:15","b":55},{"t":"2021-10-23T07:30","b":68},{"t":"2021-10-23T07:45","b":79},{"t":"2021-10-23T08:00","b":72},{"t":"2021-10-23T08:15","b":60},{"t":"2021-10-23T08:30","b":84},{"t":"2021-10-23T08:45","b":70},{"t":"2021-10-23T09:00","b":57},{"t":"2021-10-23T09:15","b":74},{"t":"2021-10-23T09:30","b":76},{"t":"2021-10-23T09:45","b":67},{"t":"2021-10-23T10:00","b":81},{"t":"2021-10-23T10:15","b":64},{"t":"2021-10-23T10:30","b":58},{"t":"2021-10-23T10:45","b":72},{"t":"2021-10-23T11:00","b":79},{"t":"2021-10-23T11:15","b":62},{"t":"2021-10-23T11:30","b":70},{"t":"2021-10-23T11:45","b":56},{"t":"2021-10-23T12:00","b":64},{"t":"2021-10-23T12:15","b":75},{"t":"2021-10-23T12:30","b":69},{"t":"2021-10-23T12:45","b":52},{"t":"2021-10-23T13:00","b":73},{"t":"2021-10-23T13:15","b":66},{"t":"2021-10-23T13:30","b":60},{"t":"2021-10-23T13:45","b":78},{"t":"2021-10-23T14:00","b":71},{"t":"2021-10-23T14:15","b":84},{"t":"2021-10-23T14:30","b":66},{"t":"2021-10-23T14:45","b":74},{"t":"2021-10-23T15:00","b":58},{"t":"2021-10-23T15:15","b":80},{"t":"2021-10-23T15:30","b":72},{"t":"2021-10-23T15:45","b":65},{"t":"2021-10-23T16:00","b":79},{"t":"2021-10-23T16:15","b":86},{"t":"2021-10-23T16:30","b":70},{"t":"2021-10-23T16:45","b":62},{"t":"2021-10-23T17:00","b":77},{"t":"2021-10-23T17:15","b":88},{"t":"2021-10-23T17:30","b":81},{"t":"2021-10-23T17:45","b":68},{"t":"2021-10-23T18:00","b":74},{"t":"2021-10-23T18:15","b":60},{"t":"2021-10-23T18:30","b":83},{"t":"2021-10-23T18:45","b":71},{"t":"2021-10-23T19:00","b":66},{"t":"2021-10-23T19:15","b":79},{"t":"2021-10-23T19:30","b":93},{"t":"2021-10-23T19:45","b":75},{"t":"2021-10-23T20:00","b":70},{"t":"2021-10-23T20:15","b":86},{"t":"2021-10-23T20:30","b":62},{"t":"2021-10-23T20:45","b":90},{"t":"2021-10-23T21:00","b":78},{"t":"2021-10-23T21:15","b":68},{"t":"2021-10-23T21:30","b":84},{"t":"2021-10-23T21:45","b":91},{"t":"2021-10-23T22:00","b":72},{"t":"2021-10-23T22:15","b":66},{"t":"2021-10-23T22:30","b":80},{"t":"2021-10-23T22:45","b":74},{"t":"2021-10-23T23:00","b":87},{"t":"2021-10-23T23:15","b":69},{"t":"2021-10-23T23:30","b":76},{"t":"2021-10-23T23:45","b":89},
{"t":"2021-10-24T00:00","b":64},{"t":"2021-10-24T00:15","b":71},{"t":"2021-10-24T00:30","b":82},{"t":"2021-10-24T00:45","b":58},{"t":"2021-10-24T01:00","b":73},{"t":"2021-10-24T01:15","b":80},{"t":"2021-10-24T01:30","b":68},{"t":"2021-10-24T01:45","b":74},{"t":"2021-10-24T02:00","b":50},{"t":"2021-10-24T02:15","b":62},{"t":"2021-10-24T02:30","b":18},{"t":"2021-10-24T02:45","b":70},{"t":"2021-10-24T03:00","b":77},{"t":"2021-10-24T03:15","b":60},{"t":"2021-10-24T03:30","b":83},{"t":"2021-10-24T03:45","b":72},{"t":"2021-10-24T04:00","b":66},{"t":"2021-10-24T04:15","b":79},{"t":"2021-10-24T04:30","b":70},{"t":"2021-10-24T04:45","b":58},{"t":"2021-10-24T05:00","b":75},{"t":"2021-10-24T05:15","b":64},{"t":"2021-10-24T05:30","b":71},{"t":"2021-10-24T05:45","b":80},{"t":"2021-10-24T06:00","b":67},{"t":"2021-10-24T06:15","b":62},{"t":"2021-10-24T06:30","b":76},{"t":"2021-10-24T06:45","b":84},{"t":"2021-10-24T07:00","b":69},{"t":"2021-10-24T07:15","b":57},{"t":"2021-10-24T07:30","b":73},{"t":"2021-10-24T07:45","b":65},{"t":"2021-10-24T08:00","b":78},{"t":"2021-10-24T08:15","b":70},{"t":"2021-10-24T08:30","b":60},{"t":"2021-10-24T08:45","b":82},{"t":"2021-10-24T09:00","b":74},{"t":"2021-10-24T09:15","b":66},{"t":"2021-10-24T09:30","b":62},{"t":"2021-10-24T09:45","b":55},{"t":"2021-10-24T10:00","b":68},{"t":"2021-10-24T10:15","b":48},{"t":"2021-10-24T10:30","b":40},{"t":"2021-10-24T10:45","b":63},{"t":"2021-10-24T11:00","b":35},{"t":"2021-10-24T11:15","b":52},{"t":"2021-10-24T11:30","b":30},{"t":"2021-10-24T11:45","b":58},{"t":"2021-10-24T12:00","b":66},{"t":"2021-10-24T12:15","b":44},{"t":"2021-10-24T12:30","b":72},{"t":"2021-10-24T12:45","b":61},{"t":"2021-10-24T13:00","b":78},{"t":"2021-10-24T13:15","b":70},{"t":"2021-10-24T13:30","b":67},{"t":"2021-10-24T13:45","b":74},{"t":"2021-10-24T14:00","b":59},{"t":"2021-10-24T14:15","b":80},{"t":"2021-10-24T14:30","b":70},{"t":"2021-10-24T14:45","b":63},{"t":"2021-10-24T15:00","b":76},{"t":"2021-10-24T15:15","b":68},{"t":"2021-10-24T15:30","b":58},{"t":"2021-10-24T15:45","b":71},{"t":"2021-10-24T16:00","b":64},{"t":"2021-10-24T16:15","b":55},{"t":"2021-10-24T16:30","b":73},{"t":"2021-10-24T16:45","b":67},{"t":"2021-10-24T17:00","b":48},{"t":"2021-10-24T17:15","b":62},{"t":"2021-10-24T17:30","b":70},{"t":"2021-10-24T17:45","b":65},{"t":"2021-10-24T18:00","b":60},{"t":"2021-10-24T18:15","b":77},{"t":"2021-10-24T18:30","b":68},{"t":"2021-10-24T18:45","b":57},{"t":"2021-10-24T19:00","b":74},{"t":"2021-10-24T19:15","b":80},{"t":"2021-10-24T19:30","b":72},{"t":"2021-10-24T19:45","b":84},{"t":"2021-10-24T20:00","b":88},{"t":"2021-10-24T20:15","b":70},{"t":"2021-10-24T20:30","b":63},{"t":"2021-10-24T20:45","b":79},{"t":"2021-10-24T21:00","b":66},{"t":"2021-10-24T21:15","b":75},{"t":"2021-10-24T21:30","b":82},{"t":"2021-10-24T21:45","b":68},{"t":"2021-10-24T22:00","b":74},{"t":"2021-10-24T22:15","b":86},{"t":"2021-10-24T22:30","b":87},{"t":"2021-10-24T22:45","b":71},{"t":"2021-10-24T23:00","b":60},{"t":"2021-10-24T23:15","b":77},{"t":"2021-10-24T23:30","b":69},{"t":"2021-10-24T23:45","b":75},
{"t":"2021-10-25T00:00","b":62},{"t":"2021-10-25T00:15","b":80},{"t":"2021-10-25T00:30","b":71},{"t":"2021-10-25T00:45","b":57},{"t":"2021-10-25T01:00","b":68},{"t":"2021-10-25T01:15","b":74},{"t":"2021-10-25T01:30","b":66},{"t":"2021-10-25T01:45","b":72},{"t":"2021-10-25T02:00","b":58},{"t":"2021-10-25T02:15","b":79},{"t":"2021-10-25T02:30","b":64},{"t":"2021-10-25T02:45","b":70},{"t":"2021-10-25T03:00","b":55},{"t":"2021-10-25T03:15","b":76},{"t":"2021-10-25T03:30","b":68},{"t":"2021-10-25T03:45","b":61},{"t":"2021-10-25T04:00","b":74},{"t":"2021-10-25T04:15","b":50},{"t":"2021-10-25T04:30","b":66},{"t":"2021-10-25T04:45","b":72},{"t":"2021-10-25T05:00","b":59},{"t":"2021-10-25T05:15","b":63},{"t":"2021-10-25T05:30","b":55},{"t":"2021-10-25T05:45","b":67},{"t":"2021-10-25T06:00","b":44},{"t":"2021-10-25T06:15","b":62},{"t":"2021-10-25T06:30","b":36},{"t":"2021-10-25T06:45","b":58},{"t":"2021-10-25T07:00","b":70},{"t":"2021-10-25T07:15","b":48},{"t":"2021-10-25T07:30","b":64},{"t":"2021-10-25T07:45","b":71},{"t":"2021-10-25T08:00","b":57},{"t":"2021-10-25T08:15","b":76},{"t":"2021-10-25T08:30","b":66},{"t":"2021-10-25T08:45","b":52},{"t":"2021-10-25T09:00","b":69},{"t":"2021-10-25T09:15","b":73},{"t":"2021-10-25T09:30","b":60},{"t":"2021-10-25T09:45","b":42},{"t":"2021-10-25T10:00","b":67},{"t":"2021-10-25T10:15","b":74},{"t":"2021-10-25T10:30","b":28},{"t":"2021-10-25T10:45","b":58},{"t":"2021-10-25T11:00","b":70},{"t":"2021-10-25T11:15","b":62},{"t":"2021-10-25T11:30","b":51},{"t":"2021-10-25T11:45","b":66},{"t":"2021-10-25T12:00","b":55},{"t":"2021-10-25T12:15","b":67},{"t":"2021-10-25T12:30","b":67},{"t":"2021-10-25T12:45","b":67},{"t":"2021-10-25T13:00","b":18},{"t":"2021-10-25T13:15","b":28},{"t":"2021-10-25T13:30","b":28},{"t":"2021-10-25T13:45","b":79},{"t":"2021-10-25T14:00","b":79},{"t":"2021-10-25T14:15","b":79},{"t":"2021-10-25T14:30","b":54},{"t":"2021-10-25T14:45","b":54},{"t":"2021-10-25T15:00","b":36},{"t":"2021-10-25T15:15","b":36},{"t":"2021-10-25T15:30","b":28},{"t":"2021-10-25T15:45","b":48},{"t":"2021-10-25T16:00","b":48},{"t":"2021-10-25T16:15","b":48},{"t":"2021-10-25T16:30","b":48},{"t":"2021-10-25T16:45","b":48},{"t":"2021-10-25T17:00","b":58},{"t":"2021-10-25T17:15","b":58},{"t":"2021-10-25T17:30","b":58},{"t":"2021-10-25T17:45","b":39},{"t":"2021-10-25T18:00","b":59},{"t":"2021-10-25T18:15","b":59},{"t":"2021-10-25T18:30","b":67},{"t":"2021-10-25T18:45","b":67},{"t":"2021-10-25T19:00","b":67},{"t":"2021-10-25T19:15","b":70},{"t":"2021-10-25T19:30","b":70},{"t":"2021-10-25T19:45","b":70},{"t":"2021-10-25T20:00","b":51},{"t":"2021-10-25T20:15","b":51},{"t":"2021-10-25T20:30","b":40},{"t":"2021-10-25T20:45","b":40},{"t":"2021-10-25T21:00","b":51},{"t":"2021-10-25T21:15","b":51},{"t":"2021-10-25T21:30","b":51},{"t":"2021-10-25T21:45","b":43},{"t":"2021-10-25T22:00","b":37},{"t":"2021-10-25T22:15","b":37},{"t":"2021-10-25T22:30","b":37},{"t":"2021-10-25T22:45","b":31},{"t":"2021-10-25T23:00","b":31},{"t":"2021-10-25T23:15","b":31},{"t":"2021-10-25T23:30","b":24},{"t":"2021-10-25T23:45","b":24},
{"t":"2021-10-26T00:00","b":22},{"t":"2021-10-26T00:15","b":53},{"t":"2021-10-26T00:30","b":70},{"t":"2021-10-26T00:45","b":70},{"t":"2021-10-26T01:00","b":70},{"t":"2021-10-26T01:15","b":32},{"t":"2021-10-26T01:30","b":18},{"t":"2021-10-26T01:45","b":48},{"t":"2021-10-26T02:00","b":48},{"t":"2021-10-26T02:15","b":57},{"t":"2021-10-26T02:30","b":57},{"t":"2021-10-26T02:45","b":57},{"t":"2021-10-26T03:00","b":61},{"t":"2021-10-26T03:15","b":61},{"t":"2021-10-26T03:30","b":72},{"t":"2021-10-26T03:45","b":72},{"t":"2021-10-26T04:00","b":76},{"t":"2021-10-26T04:15","b":76},{"t":"2021-10-26T04:30","b":76},{"t":"2021-10-26T04:45","b":70},{"t":"2021-10-26T05:00","b":40},{"t":"2021-10-26T05:15","b":69},{"t":"2021-10-26T05:30","b":69},{"t":"2021-10-26T05:45","b":69},{"t":"2021-10-26T06:00","b":69},{"t":"2021-10-26T06:15","b":71},{"t":"2021-10-26T06:30","b":71},{"t":"2021-10-26T06:45","b":71},{"t":"2021-10-26T07:00","b":71},{"t":"2021-10-26T07:15","b":71},{"t":"2021-10-26T07:30","b":63},{"t":"2021-10-26T07:45","b":61},{"t":"2021-10-26T08:00","b":61},{"t":"2021-10-26T08:15","b":38},{"t":"2021-10-26T08:30","b":38},{"t":"2021-10-26T08:45","b":38},{"t":"2021-10-26T09:00","b":10},{"t":"2021-10-26T09:15","b":10},{"t":"2021-10-26T09:30","b":19},{"t":"2021-10-26T09:45","b":74},{"t":"2021-10-26T10:00","b":74},{"t":"2021-10-26T10:15","b":74},{"t":"2021-10-26T10:30","b":17},{"t":"2021-10-26T10:45","b":17},{"t":"2021-10-26T11:00","b":56},{"t":"2021-10-26T11:15","b":56},{"t":"2021-10-26T11:30","b":72},{"t":"2021-10-26T11:45","b":72},{"t":"2021-10-26T12:00","b":73},{"t":"2021-10-26T12:15","b":73},{"t":"2021-10-26T12:30","b":73},{"t":"2021-10-26T12:45","b":73},{"t":"2021-10-26T13:00","b":73},{"t":"2021-10-26T13:15","b":73},{"t":"2021-10-26T13:30","b":80},{"t":"2021-10-26T13:45","b":80},{"t":"2021-10-26T14:00","b":80},{"t":"2021-10-26T14:15","b":56},{"t":"2021-10-26T14:30","b":41},{"t":"2021-10-26T14:45","b":41},{"t":"2021-10-26T15:00","b":23},{"t":"2021-10-26T15:15","b":32},{"t":"2021-10-26T15:30","b":71},{"t":"2021-10-26T15:45","b":71},{"t":"2021-10-26T16:00","b":72},{"t":"2021-10-26T16:15","b":72},{"t":"2021-10-26T16:30","b":57},{"t":"2021-10-26T16:45","b":71},{"t":"2021-10-26T17:00","b":71},{"t":"2021-10-26T17:15","b":86},{"t":"2021-10-26T17:30","b":86},{"t":"2021-10-26T17:45","b":86},{"t":"2021-10-26T18:00","b":42},{"t":"2021-10-26T18:15","b":51},{"t":"2021-10-26T18:30","b":51},{"t":"2021-10-26T18:45","b":51},{"t":"2021-10-26T19:00","b":37},{"t":"2021-10-26T19:15","b":37},{"t":"2021-10-26T19:30","b":37},{"t":"2021-10-26T19:45","b":42},{"t":"2021-10-26T20:00","b":47},{"t":"2021-10-26T20:15","b":47},{"t":"2021-10-26T20:30","b":47},{"t":"2021-10-26T20:45","b":47},{"t":"2021-10-26T21:00","b":49},{"t":"2021-10-26T21:15","b":79},{"t":"2021-10-26T21:30","b":79},{"t":"2021-10-26T21:45","b":79},{"t":"2021-10-26T22:00","b":65},{"t":"2021-10-26T22:15","b":65},{"t":"2021-10-26T22:30","b":39},{"t":"2021-10-26T22:45","b":68},{"t":"2021-10-26T23:00","b":68},{"t":"2021-10-26T23:15","b":68},{"t":"2021-10-26T23:30","b":68},{"t":"2021-10-26T23:45","b":68}
]
},
"spacing": 97,
"vconcat": [
  {
    "width": 1600,
    "height": 1300,
    "layer": [
      {
        "data": {"name": "area"},
        "mark": {"type": "area", "color": "#5b104c", "clip": true},
        "encoding": {
          "x": {"field": "t", "type": "temporal", "scale": {"domain": [{"year": 2021, "month": 10, "date": 19}, {"year": 2021, "month": 10, "date": 27}], "nice": false, "padding": 0}, "axis": {"labels": false, "ticks": false}},
          "y": {"field": "v", "type": "quantitative", "scale": {"domain": [-45, 155], "nice": false, "zero": false, "padding": 0}, "axis": {"values": [-40, -20, 0, 20, 40, 60, 80, 100, 120, 140], "labelExpr": "datum.value + '%'", "labelAlign": "center", "labelPadding": 78}},
          "y2": {"datum": -45}
        }
      },
      {
        "data": {"name": "area"},
        "mark": {"type": "area", "color": "#323031", "clip": true, "yOffset": 23},
        "encoding": {
          "x": {"field": "t", "type": "temporal", "scale": {"domain": [{"year": 2021, "month": 10, "date": 19}, {"year": 2021, "month": 10, "date": 27}], "nice": false, "padding": 0}},
          "y": {"field": "v", "type": "quantitative", "scale": {"domain": [-45, 155], "nice": false, "zero": false, "padding": 0}, "axis": null},
          "y2": {"datum": -45}
        }
      },
      {
        "data": {"name": "ma"},
        "mark": {"type": "line", "color": "#5b7a55", "strokeWidth": 6, "interpolate": "monotone", "clip": true},
        "encoding": {
          "x": {"field": "t", "type": "temporal", "scale": {"domain": [{"year": 2021, "month": 10, "date": 19}, {"year": 2021, "month": 10, "date": 27}], "nice": false, "padding": 0}},
          "y": {"field": "v", "type": "quantitative", "scale": {"domain": [-45, 155], "nice": false, "zero": false, "padding": 0}, "axis": {"orient": "right", "labels": false, "ticks": false}}
        }
      }
    ],
    "resolve": {"axis": {"y": "independent"}}
  },
  {
    "width": 1600,
    "height": 200,
    "data": {"name": "vol"},
    "layer": [
      {
        "mark": {"type": "bar", "color": "#323031", "width": 2.6, "xOffset": 1.04},
        "encoding": {
          "x": {"field": "t", "type": "temporal", "scale": {"domain": [{"year": 2021, "month": 10, "date": 19}, {"year": 2021, "month": 10, "date": 27}], "nice": false, "padding": 0},
                "axis": {"values": [{"year": 2021, "month": 10, "date": 19}, {"year": 2021, "month": 10, "date": 20}, {"year": 2021, "month": 10, "date": 21}, {"year": 2021, "month": 10, "date": 22}, {"year": 2021, "month": 10, "date": 23}, {"year": 2021, "month": 10, "date": 24}, {"year": 2021, "month": 10, "date": 25}, {"year": 2021, "month": 10, "date": 26}, {"year": 2021, "month": 10, "date": 27}],
                         "labelExpr": "[timeFormat(datum.value, '%b %d'), timeFormat(datum.value, '%Y')]", "labelPadding": 25, "labelLineHeight": 61, "labelAlign": "center", "labelBaseline": "top"}},
          "y": {"field": "b", "type": "quantitative", "scale": {"domain": [0, 100], "nice": false, "padding": 0}, "axis": {"labels": false, "ticks": false}}
        }
      },
      {
        "mark": {"type": "bar", "opacity": 0, "width": 1},
        "encoding": {
          "x": {"field": "t", "type": "temporal", "scale": {"domain": [{"year": 2021, "month": 10, "date": 19}, {"year": 2021, "month": 10, "date": 27}], "nice": false, "padding": 0}},
          "y": {"field": "b", "type": "quantitative", "scale": {"domain": [0, 100], "nice": false, "padding": 0}, "axis": {"orient": "right", "labels": false, "ticks": false}}
        }
      }
    ],
    "resolve": {"axis": {"y": "independent"}}
  }
]
}
